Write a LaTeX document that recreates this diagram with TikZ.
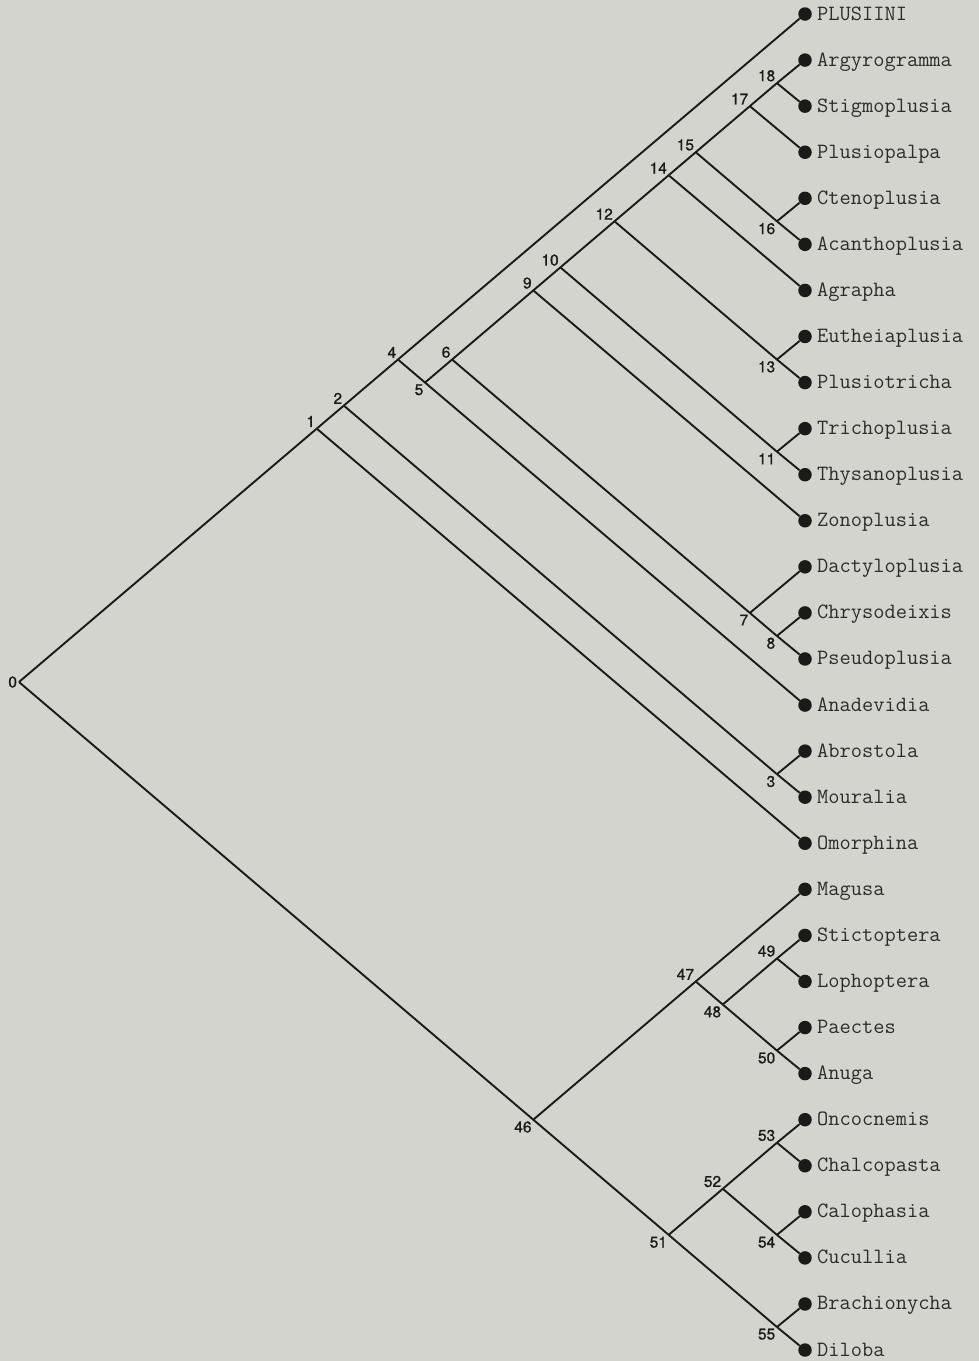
\documentclass[tikz,border=0pt]{standalone}
\usepackage{fontspec}
\newfontfamily\numfont[FakeBold=0.9]{TeX Gyre Heros}
\definecolor{bg}{HTML}{D3D4CE}
\definecolor{ink}{HTML}{1C1A18}
\tikzset{
  edge/.style={line width=1.9pt, draw=ink},
  dot/.style={circle, fill=ink, minimum size=13.5pt, inner sep=0pt},
  leaftext/.style={anchor=base west, inner sep=0pt, font=\ttfamily\fontsize{21.8}{24}\selectfont, text=ink!92},
  numlab/.style={font=\numfont\fontsize{15.5}{17}\selectfont, inner sep=0.8pt, text=ink, label distance=1pt},
}
\newcommand\inode[4]{\coordinate[label={[numlab]#4:#1}] (n#1) at ({804-27.07*(#3-#2)},{14+23.035*(#2+#3)});}
\begin{document}
\begin{tikzpicture}[x=1pt,y=-1pt]
\fill[bg] (0,0) rectangle (979,1361);
\useasboundingbox (0,0) rectangle (979,1361);
\foreach \n [count=\j from 0] in {PLUSIINI,Argyrogramma,Stigmoplusia,Plusiopalpa,Ctenoplusia,Acanthoplusia,Agrapha,Eutheiaplusia,Plusiotricha,Trichoplusia,Thysanoplusia,Zonoplusia,Dactyloplusia,Chrysodeixis,Pseudoplusia,Anadevidia,Abrostola,Mouralia,Omorphina,Magusa,Stictoptera,Lophoptera,Paectes,Anuga,Oncocnemis,Chalcopasta,Calophasia,Cucullia,Brachionycha,Diloba}{
  \node[dot] (L\j) at (805,{14+46.07*\j}) {};
  \node[leaftext] (T\j) at (817,{20+46.07*\j}) {\n};
}
\inode{0}{0}{29}{left}
\inode{1}{0}{18}{above left}
\inode{2}{0}{17}{above left}
\inode{3}{16}{17}{below left}
\inode{4}{0}{15}{above left}
\inode{5}{1}{15}{below left}
\inode{6}{1}{14}{above left}
\inode{7}{12}{14}{below left}
\inode{8}{13}{14}{below left}
\inode{9}{1}{11}{above left}
\inode{10}{1}{10}{above left}
\inode{11}{9}{10}{below left}
\inode{12}{1}{8}{above left}
\inode{13}{7}{8}{below left}
\inode{14}{1}{6}{above left}
\inode{15}{1}{5}{above left}
\inode{16}{4}{5}{below left}
\inode{17}{1}{3}{above left}
\inode{18}{1}{2}{above left}
\inode{46}{19}{29}{below left}
\inode{47}{19}{23}{above left}
\inode{48}{20}{23}{below left}
\inode{49}{20}{21}{above left}
\inode{50}{22}{23}{below left}
\inode{51}{24}{29}{below left}
\inode{52}{24}{27}{above left}
\inode{53}{24}{25}{above left}
\inode{54}{26}{27}{below left}
\inode{55}{28}{29}{below left}
\draw[edge] (n0) -- (n1);
\draw[edge] (n0) -- (n46);
\draw[edge] (n1) -- (n2);
\draw[edge] (n1) -- (L18);
\draw[edge] (n2) -- (n4);
\draw[edge] (n2) -- (n3);
\draw[edge] (n3) -- (L16);
\draw[edge] (n3) -- (L17);
\draw[edge] (n4) -- (L0);
\draw[edge] (n4) -- (n5);
\draw[edge] (n5) -- (n6);
\draw[edge] (n5) -- (L15);
\draw[edge] (n6) -- (n9);
\draw[edge] (n6) -- (n7);
\draw[edge] (n7) -- (L12);
\draw[edge] (n7) -- (n8);
\draw[edge] (n8) -- (L13);
\draw[edge] (n8) -- (L14);
\draw[edge] (n9) -- (n10);
\draw[edge] (n9) -- (L11);
\draw[edge] (n10) -- (n12);
\draw[edge] (n10) -- (n11);
\draw[edge] (n11) -- (L9);
\draw[edge] (n11) -- (L10);
\draw[edge] (n12) -- (n14);
\draw[edge] (n12) -- (n13);
\draw[edge] (n13) -- (L7);
\draw[edge] (n13) -- (L8);
\draw[edge] (n14) -- (n15);
\draw[edge] (n14) -- (L6);
\draw[edge] (n15) -- (n17);
\draw[edge] (n15) -- (n16);
\draw[edge] (n16) -- (L4);
\draw[edge] (n16) -- (L5);
\draw[edge] (n17) -- (n18);
\draw[edge] (n17) -- (L3);
\draw[edge] (n18) -- (L1);
\draw[edge] (n18) -- (L2);
\draw[edge] (n46) -- (n47);
\draw[edge] (n46) -- (n51);
\draw[edge] (n47) -- (L19);
\draw[edge] (n47) -- (n48);
\draw[edge] (n48) -- (n49);
\draw[edge] (n48) -- (n50);
\draw[edge] (n49) -- (L20);
\draw[edge] (n49) -- (L21);
\draw[edge] (n50) -- (L22);
\draw[edge] (n50) -- (L23);
\draw[edge] (n51) -- (n52);
\draw[edge] (n51) -- (n55);
\draw[edge] (n52) -- (n53);
\draw[edge] (n52) -- (n54);
\draw[edge] (n53) -- (L24);
\draw[edge] (n53) -- (L25);
\draw[edge] (n54) -- (L26);
\draw[edge] (n54) -- (L27);
\draw[edge] (n55) -- (L28);
\draw[edge] (n55) -- (L29);
\end{tikzpicture}
\end{document}
